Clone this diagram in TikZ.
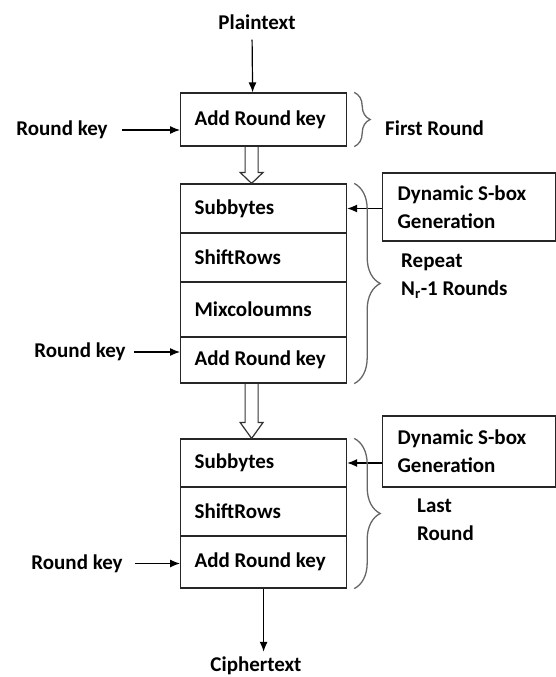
\documentclass[tikz,border=0pt]{standalone}
\usepackage{fontspec}
\setmainfont{Carlito}
\usetikzlibrary{arrows.meta,calc,decorations.pathreplacing}

\begin{document}
\begin{tikzpicture}[x=1pt,y=-1pt,>={Latex[length=10pt,width=8pt]},
  every node/.style={font=\bfseries\fontsize{21}{28}\selectfont,inner sep=2pt},
  stage/.style={draw=black!85,line width=1.2pt,text width=138pt,inner xsep=14pt,inner ysep=0pt,align=flush left,anchor=west},
  sbox/.style={draw=black!85,line width=1.2pt,text width=143pt,inner xsep=15pt,align=flush left,anchor=west},
  arr/.style={->,line width=1.2pt},
  brc/.style={decorate,decoration={brace,amplitude=#1},draw=black!60,line width=1.3pt},
  hollow/.style={draw=black!80,line width=1.2pt}]
\useasboundingbox (0,0) rectangle (556,677);

% first round
\node (pt) at (257,22) {Plaintext};
\node[stage,minimum height=53pt] (ark1) at (180,119.5) {Add Round key};
\node (rk1) at (62,130) {Round key};
\node[anchor=west] (fr) at (383,128) {First Round};

% middle rounds
\node[stage,minimum height=49pt] (sub2) at (180,208.5) {Subbytes};
\node[stage,minimum height=49pt] (shr2) at (180,257.5) {ShiftRows};
\node[stage,minimum height=55pt] (mix2) at (180,309.5) {Mixcoloumns};
\node[stage,minimum height=46pt] (ark2) at (180,360) {Add Round key};
\node (rk2) at (80,352) {Round key};
\node[sbox,minimum height=68pt] (sb2) at (382,207) {Dynamic S-box\\Generation};
\node[anchor=west,align=flush left] (rep) at (399,276.5) {Repeat\\N\textsubscript{r}-1 Rounds};

% last round
\node[stage,minimum height=48pt] (sub3) at (180,463) {Subbytes};
\node[stage,minimum height=49pt] (shr3) at (180,511.5) {ShiftRows};
\node[stage,minimum height=52pt] (ark3) at (180,562) {Add Round key};
\node (rk3) at (77,563.5) {Round key};
\node[sbox,minimum height=71pt] (sb3) at (382,451.5) {Dynamic S-box\\Generation};
\node[anchor=west,align=flush left] (lst) at (415,520) {Last\\Round};
\node (ct) at (256,666) {Ciphertext};

\draw[arr,shorten <=8pt] ([xshift=-5pt]pt.south) -- ([xshift=-11pt]ark1.north);
\draw[arr,shorten <=12pt] (rk1) -- (rk1 -| ark1.west);
\draw[arr,shorten <=6pt] (rk2) -- (rk2 -| ark2.west);
\draw[arr,shorten <=10pt] (rk3) -- (rk3 -| ark3.west);
\draw[arr] (sb2.west |- sub2.east) -- (sub2.east);
\draw[arr] (sb3.west |- sub3.east) -- (sub3.east);
\draw[arr,shorten >=3pt] (ark3.south) -- (ark3.south |- ct.north);

% hollow arrows between rounds
\draw[hollow] ($(ark1.south)+(-18.5,0)$) -- ($(sub2.north)+(-18.5,-11)$) -- ($(sub2.north)+(-23.5,-11)$)
  -- ($(sub2.north)+(-12,0)$) -- ($(sub2.north)+(-0.5,-11)$) -- ($(sub2.north)+(-5.5,-11)$) -- ($(ark1.south)+(-5.5,0)$);
\draw[hollow] ($(ark2.south)+(-18.5,0)$) -- ($(sub3.north)+(-18.5,-16)$) -- ($(sub3.north)+(-23.5,-16)$)
  -- ($(sub3.north)+(-12,0)$) -- ($(sub3.north)+(-0.5,-16)$) -- ($(sub3.north)+(-5.5,-16)$) -- ($(ark2.south)+(-5.5,0)$);

% braces
\draw[brc=16pt] ($(ark1.north east)+(7,0)$) -- ($(ark1.south east)+(7,0)$);
\draw[brc=26pt] ($(sub2.north east)+(7,0)$) -- ($(ark2.south east)+(7,0)$);
\draw[brc=26pt] ($(sub3.north east)+(7,0)$) -- ($(ark3.south east)+(7,0)$);
\end{tikzpicture}
\end{document}
